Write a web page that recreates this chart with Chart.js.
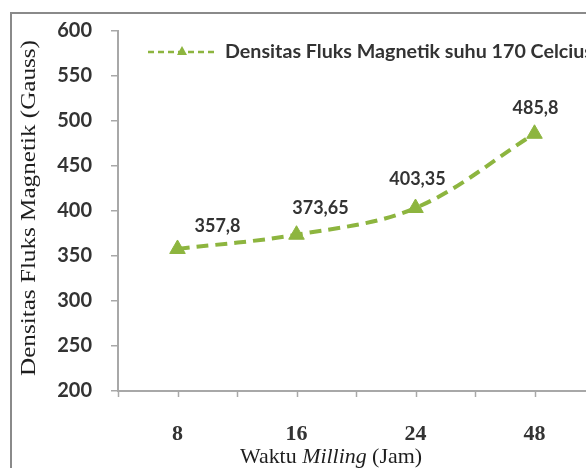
<!DOCTYPE html>
<html>
<head>
<meta charset="utf-8">
<script src="https://cdn.jsdelivr.net/npm/chart.js@4.4.1/dist/chart.umd.min.js"></script>
<style>
  html, body { margin: 0; padding: 0; overflow: hidden; background: #fff; }
  #frame { position: absolute; left: 10px; top: 12px; width: 700px; height: 600px; border: 2px solid #8a8a8a; }
  #wrap { position: absolute; left: 0; top: 0; width: 620px; height: 470px; }
</style>
</head>
<body>
<div id="frame"></div>
<div id="wrap"><canvas id="chart" width="620" height="470"></canvas></div>
<script>
// data
const categories = ['8', '16', '24', '48'];
const fluxValues = [357.8, 373.65, 403.35, 485.8];
const seriesName = 'Densitas Fluks Magnetik suhu 170 Celcius';
const yTitle = 'Densitas Fluks Magnetik (Gauss)';
const xTitleParts = [['normal', 'Waktu '], ['italic', 'Milling'], ['normal', ' (Jam)']];

const green = '#8db53f';
const axisGrey = '#a8a8a8';
const textColor = '#333333';

// draws text squeezed/stretched so it covers a given width
function fitText(ctx, text, x, y, width) {
    const w = ctx.measureText(text).width;
    ctx.save();
    ctx.translate(x, y);
    ctx.scale(width / w, 1);
    ctx.fillText(text, 0, 0);
    ctx.restore();
}

const extras = {
    id: 'extras',
    afterDatasetsDraw(chart, args, opts) {
        const ctx = chart.ctx;
        const meta = chart.getDatasetMeta(0);

        // value labels
        ctx.save();
        ctx.font = 'bold 18px Lato';
        ctx.fillStyle = textColor;
        ctx.textAlign = 'center';
        ctx.textBaseline = 'middle';
        meta.data.forEach((pt, i) => {
            const off = opts.labelOffsets[i];
            const txt = String(fluxValues[i]).replace('.', ',');
            ctx.fillText(txt, pt.x + off[0], pt.y + off[1]);
        });
        ctx.restore();
    },
    afterDraw(chart) {
        const ctx = chart.ctx;
        const x = chart.scales.x;
        const area = chart.chartArea;

        // x tick marks: category edges and centres
        ctx.save();
        ctx.strokeStyle = axisGrey;
        ctx.lineWidth = 1.5;
        const half = (x.getPixelForValue(1) - x.getPixelForValue(0)) / 2;
        for (let i = 0; i <= categories.length * 2; i++) {
            const px = Math.round(area.left + i * half) + 0.5;
            ctx.beginPath();
            ctx.moveTo(px, area.bottom);
            ctx.lineTo(px, area.bottom + 6);
            ctx.stroke();
        }
        ctx.restore();

        // legend
        ctx.save();
        ctx.strokeStyle = green;
        ctx.lineWidth = 2.5;
        ctx.setLineDash([6, 4]);
        ctx.beginPath();
        ctx.moveTo(148, 52);
        ctx.lineTo(218, 52);
        ctx.stroke();
        ctx.setLineDash([]);
        ctx.fillStyle = green;
        ctx.beginPath();
        ctx.moveTo(182, 46);
        ctx.lineTo(187, 55);
        ctx.lineTo(177, 55);
        ctx.closePath();
        ctx.fill();
        ctx.font = 'bold 18px Lato';
        ctx.fillStyle = textColor;
        ctx.textBaseline = 'middle';
        fitText(ctx, seriesName, 225, 52, 368);
        ctx.restore();

        // y axis title
        ctx.save();
        ctx.font = '22px "Liberation Serif"';
        ctx.fillStyle = '#1e1e1e';
        ctx.textBaseline = 'middle';
        ctx.translate(29, 376);
        ctx.rotate(-Math.PI / 2);
        fitText(ctx, yTitle, 0, 0, 336);
        ctx.restore();

        // x axis title with italic part
        ctx.save();
        ctx.fillStyle = '#1e1e1e';
        ctx.textBaseline = 'middle';
        let total = 0;
        const widths = xTitleParts.map(([style, t]) => {
            ctx.font = style + ' 22px "Liberation Serif"';
            const w = ctx.measureText(t).width;
            total += w;
            return w;
        });
        const k = 182 / total;
        let cx = 240;
        xTitleParts.forEach(([style, t], i) => {
            ctx.font = style + ' 22px "Liberation Serif"';
            fitText(ctx, t, cx, 457, widths[i] * k);
            cx += widths[i] * k;
        });
        ctx.restore();
    }
};

new Chart(document.getElementById('chart'), {
    type: 'line',
    data: {
        labels: categories,
        datasets: [{
            label: seriesName,
            data: fluxValues,
            borderColor: green,
            backgroundColor: green,
            borderWidth: 4,
            borderDash: [12, 7],
            tension: 0.35,
            pointStyle: 'triangle',
            pointRadius: 9,
            pointHoverRadius: 9,
            pointBorderWidth: 1,
            pointBackgroundColor: green,
            pointBorderColor: green,
        }],
    },
    options: {
        responsive: false,
        animation: false,
        layout: {
            padding: { top: 28, right: 26, left: 0, bottom: 0 }
        },
        scales: {
            x: {
                offset: true,
                grid: { display: false },
                border: { display: true, color: axisGrey, width: 2 },
                ticks: {
                    color: textColor,
                    padding: 22,
                    font: { family: '"Liberation Serif"', size: 22, weight: 'bold' }
                },
                afterFit(scale) { scale.height = 79; }
            },
            y: {
                min: 200,
                max: 600,
                ticks: {
                    stepSize: 50,
                    color: textColor,
                    padding: 19,
                    font: { family: 'Lato', size: 20, weight: 'bold' }
                },
                grid: {
                    drawOnChartArea: false,
                    drawTicks: true,
                    tickLength: 7,
                    color: axisGrey,
                    lineWidth: 1.5
                },
                border: { display: true, color: axisGrey, width: 2 },
                afterFit(scale) { scale.width = 118; }
            }
        },
        plugins: {
            legend: { display: false },
            tooltip: { enabled: false },
            extras: {
                labelOffsets: [[40, -23], [24, -27], [2, -29], [1, -26]]
            }
        }
    },
    plugins: [extras]
});
</script>
</body>
</html>
